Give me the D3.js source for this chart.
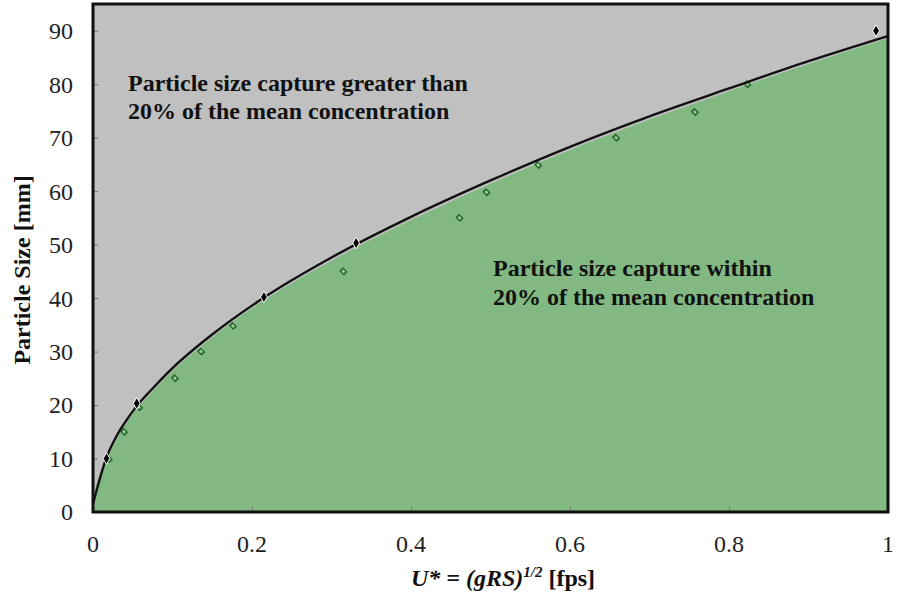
<!DOCTYPE html>
<html>
<head>
<meta charset="utf-8">
<script src="https://cdn.jsdelivr.net/npm/d3@7"></script>
<style>
  body { margin: 0; background: #fff; }
</style>
</head>
<body>
<div id="chart"></div>
<script>
// upper boundary line (black)
const lineU = [0, 0.017, 0.03, 0.04, 0.055, 0.075, 0.1, 0.15, 0.215, 0.3, 0.4, 0.5, 0.6, 0.7, 0.8, 0.9, 1.0];
const lineSize = [1.5, 10.2, 14.3, 16.7, 19.8, 23.1, 26.9, 33.2, 40.1, 47.6, 55.2, 62, 68.3, 74, 79.2, 84.3, 89];

// green region top edge
const areaU = [0, 0.003, 0.008, 0.017, 0.03, 0.04, 0.055, 0.075, 0.1, 0.15, 0.215, 0.3, 0.4, 0.5, 0.6, 0.7, 0.8, 0.9, 1.0];
const areaSize = [0, 4, 6.8, 9.7, 13.8, 16.2, 19.3, 22.6, 26.4, 32.7, 39.6, 47, 54.6, 61.4, 67.7, 73.4, 78.7, 83.8, 88.6];

// black diamonds
const blackU = [0.017, 0.055, 0.215, 0.331, 0.985];
const blackSize = [10, 20.3, 40.2, 50.3, 90];

// green hollow diamonds
const greenU = [0.02, 0.039, 0.058, 0.103, 0.136, 0.176, 0.315, 0.461, 0.495, 0.56, 0.658, 0.757, 0.823];
const greenSize = [9.9, 15, 19.6, 25, 30, 34.8, 45, 55, 59.8, 64.9, 70, 74.8, 80];

const xTicks = [0, 0.2, 0.4, 0.6, 0.8, 1];
const yTicks = [0, 10, 20, 30, 40, 50, 60, 70, 80, 90];

const FONT = "'Liberation Serif', 'Times New Roman', 'DejaVu Serif', serif";

const W = 899, H = 595;
const margin = {top: 4, right: 11, bottom: 83, left: 93};
const width = W - margin.left - margin.right;
const height = H - margin.top - margin.bottom;

const svg = d3.select("#chart").append("svg")
    .attr("width", W)
    .attr("height", H)
    .style("font-family", FONT);

const g = svg.append("g")
    .attr("transform", `translate(${margin.left},${margin.top})`);

const x = d3.scaleLinear().domain([0, 1]).range([0, width]);
const y = d3.scaleLinear().domain([0, 95]).range([height, 0]);

// gray background
g.append("rect")
    .attr("width", width)
    .attr("height", height)
    .attr("fill", "#c0c0c0");

// green area
const areaData = areaU.map((u, i) => ({u: u, s: areaSize[i]}));
g.append("path")
    .datum(areaData)
    .attr("fill", "#82b982")
    .attr("d", d3.area()
        .x(d => x(d.u))
        .y0(height)
        .y1(d => y(d.s))
        .curve(d3.curveMonotoneX));

// tick marks (inside)
g.append("g")
    .attr("class", "y-axis")
    .call(d3.axisRight(y).tickValues(yTicks).tickSize(5).tickFormat(""))
    .call(a => a.select(".domain").remove())
    .selectAll("line").attr("stroke", "#777");

g.append("g")
    .attr("class", "x-axis")
    .attr("transform", `translate(0,${height})`)
    .call(d3.axisTop(x).tickValues(xTicks).tickSize(5).tickFormat(""))
    .call(a => a.select(".domain").remove())
    .selectAll("line").attr("stroke", "#777");

// green diamonds
g.selectAll(".gpt")
    .data(greenU.map((u, i) => ({u: u, s: greenSize[i]})))
    .enter().append("path")
    .attr("class", "gpt")
    .attr("d", d3.symbol().type(d3.symbolSquare).size(24))
    .attr("transform", d => `translate(${x(d.u)},${y(d.s)}) rotate(45) scale(1,0.8)`)
    .attr("fill", "#9ccb9c")
    .attr("stroke", "#2a6530")
    .attr("stroke-width", 1.7);

// black line
const lineData = lineU.map((u, i) => ({u: u, s: lineSize[i]}));
g.append("path")
    .datum(lineData)
    .attr("fill", "none")
    .attr("stroke", "#111")
    .attr("stroke-width", 2.4)
    .attr("d", d3.line()
        .x(d => x(d.u))
        .y(d => y(d.s))
        .curve(d3.curveMonotoneX));

// black diamonds
g.selectAll(".bpt")
    .data(blackU.map((u, i) => ({u: u, s: blackSize[i]})))
    .enter().append("path")
    .attr("class", "bpt")
    .attr("d", d3.symbol().type(d3.symbolDiamond).size(40))
    .attr("transform", d => `translate(${x(d.u)},${y(d.s)})`)
    .attr("fill", "#000")
    .attr("stroke", "#fff")
    .attr("stroke-width", 1);

// frame
g.append("rect")
    .attr("width", width)
    .attr("height", height)
    .attr("fill", "none")
    .attr("stroke", "#111")
    .attr("stroke-width", 3);

// tick labels
g.selectAll(".ylab")
    .data(yTicks)
    .enter().append("text")
    .attr("class", "ylab")
    .attr("x", -20)
    .attr("y", d => y(d))
    .attr("dy", "0.35em")
    .attr("text-anchor", "end")
    .attr("fill", "#222")
    .style("font-size", "24px")
    .text(d => d);

g.selectAll(".xlab")
    .data(xTicks)
    .enter().append("text")
    .attr("class", "xlab")
    .attr("x", d => x(d))
    .attr("y", height + 40)
    .attr("text-anchor", "middle")
    .attr("fill", "#222")
    .style("font-size", "24px")
    .text(d => d);

// axis titles
const xt = svg.append("text")
    .attr("x", 503)
    .attr("y", 586)
    .attr("text-anchor", "middle")
    .attr("fill", "#111")
    .style("font-size", "24px")
    .style("font-weight", "bold");
xt.append("tspan").style("font-style", "italic").text("U* = (gRS)");
xt.append("tspan").attr("dy", -9).style("font-size", "15px").style("font-style", "italic").text("1/2");
xt.append("tspan").attr("dy", 9).text(" [fps]");

svg.append("text")
    .attr("transform", "translate(30,270) rotate(-90)")
    .attr("text-anchor", "middle")
    .attr("fill", "#111")
    .style("font-size", "24px")
    .style("font-weight", "bold")
    .text("Particle Size [mm]");

// region labels
const notes = [
    {x: 128, y: 91, text: "Particle size capture greater than"},
    {x: 128, y: 119, text: "20% of the mean concentration"},
    {x: 493, y: 276, text: "Particle size capture within"},
    {x: 493, y: 305, text: "20% of the mean concentration"}
];
svg.selectAll(".note")
    .data(notes)
    .enter().append("text")
    .attr("class", "note")
    .attr("x", d => d.x)
    .attr("y", d => d.y)
    .attr("fill", "#111")
    .style("font-size", "24px")
    .style("font-weight", "bold")
    .text(d => d.text);
</script>
</body>
</html>
